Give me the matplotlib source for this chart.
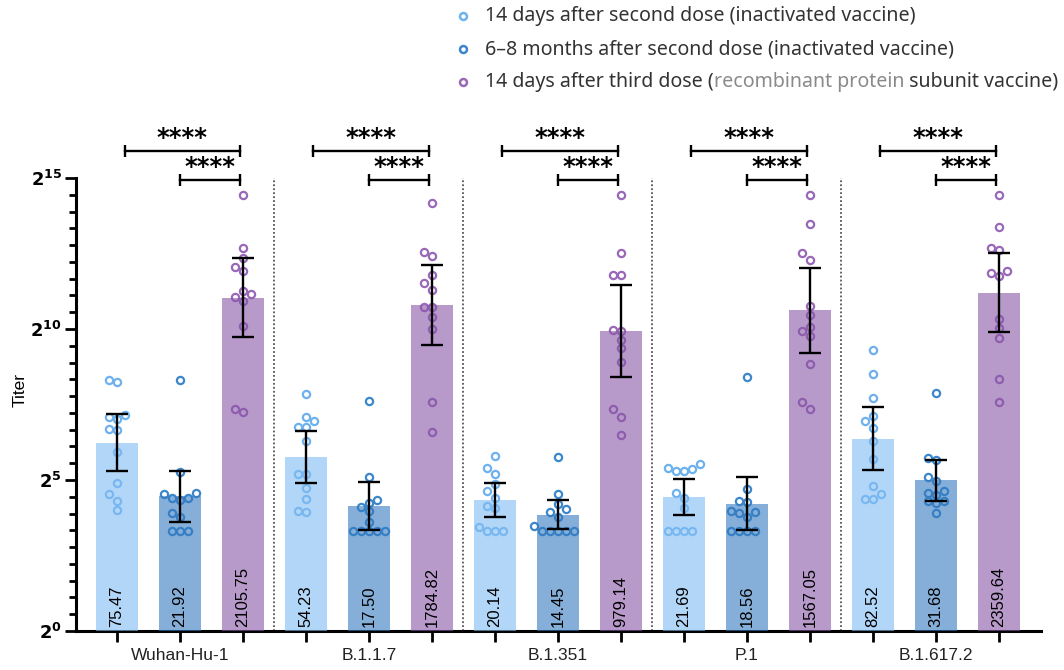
import numpy as np
import matplotlib.pyplot as plt
import matplotlib.transforms as mtransforms
from matplotlib.ticker import FixedLocator, NullFormatter

variants = ["Wuhan-Hu-1", "B.1.1.7", "B.1.351", "P.1", "B.1.617.2"]
series_names = [
    "14 days after second dose (inactivated vaccine)",
    "6\u20138 months after second dose (inactivated vaccine)",
    "14 days after third dose (recombinant protein subunit vaccine)",
]

# geometric mean titers written on the bars
gmt_14d = [75.47, 54.23, 20.14, 21.69, 82.52]
gmt_6m = [21.92, 17.50, 14.45, 18.56, 31.68]
gmt_3rd = [2105.75, 1784.82, 979.14, 1567.05, 2359.64]

# error bars, SD in log2 units
sd_14d = [0.95, 0.86, 0.57, 0.59, 1.05]
sd_6m = [0.86, 0.80, 0.47, 0.88, 0.67]
sd_3rd = [1.31, 1.33, 1.51, 1.41, 1.32]

# single sera, log2 titer
pts_14d = [
    [8.25, 8.31, 7.01, 7.10, 7.15, 6.66, 6.68, 5.94, 4.91, 4.54, 4.31, 4.01],
    [7.85, 7.10, 6.96, 6.77, 6.77, 6.30, 5.20, 5.20, 4.72, 4.36, 3.93, 3.98],
    [5.81, 5.41, 5.20, 4.86, 4.64, 4.39, 4.08, 4.15, 3.32, 3.43, 3.32, 3.32],
    [5.31, 5.41, 5.53, 5.30, 5.35, 4.58, 4.39, 4.06, 3.32, 3.32, 3.32, 3.32],
    [9.30, 8.51, 7.70, 7.12, 6.96, 6.73, 6.30, 5.69, 4.80, 4.54, 4.37, 4.37],
]
pts_6m = [
    [8.31, 5.28, 4.39, 4.39, 4.35, 4.54, 4.58, 3.92, 3.79, 3.32, 3.32, 3.32],
    [7.63, 5.09, 4.34, 4.25, 4.10, 3.98, 3.62, 3.32, 3.32, 3.32, 3.32, 3.32],
    [5.77, 4.54, 4.19, 3.93, 4.04, 3.79, 3.48, 3.32, 3.32, 3.32, 3.32, 3.32],
    [8.40, 4.70, 4.26, 4.31, 3.98, 3.92, 3.93, 3.79, 3.32, 3.32, 3.32, 3.32],
    [7.87, 5.72, 5.66, 5.09, 4.98, 4.58, 4.65, 4.50, 4.31, 4.31, 4.23, 3.92],
]
pts_3rd = [
    [14.44, 12.69, 12.36, 12.06, 11.93, 11.27, 11.05, 10.93, 11.16, 10.10, 7.26, 7.34],
    [14.16, 12.43, 12.56, 11.79, 11.53, 11.29, 10.74, 10.74, 10.41, 10.00, 7.57, 6.60],
    [14.44, 12.51, 11.79, 11.79, 9.97, 9.94, 9.64, 9.36, 8.92, 7.34, 7.10, 6.49],
    [14.44, 13.47, 12.28, 12.51, 10.77, 10.46, 9.94, 10.08, 9.77, 8.83, 7.35, 7.57],
    [14.44, 13.37, 12.67, 12.62, 11.84, 11.92, 11.75, 10.32, 10.02, 9.71, 8.34, 7.57],
]

bar_colors = ["#80BCF2", "#347BC1", "#8757A8"]
dot_colors = ["#6DB2EF", "#3C86CB", "#9A68B8"]

PX_X = 63.0   # pixels per bar slot
PX_Y = 30.2   # pixels per log2 unit


def swarm(vals, step=0.125, dmin=7.6):
    # simple beeswarm: spread points that would overlap
    order = np.argsort(vals)
    placed = []
    offs = np.zeros(len(vals))
    for i in order:
        y = vals[i] * PX_Y
        for k in [0, -1, 1, -2, 2, -3, 3, -4, 4]:
            x = k * step * PX_X
            if all((x - px) ** 2 + (y - py) ** 2 >= dmin ** 2 for px, py in placed):
                break
        placed.append((x, y))
        offs[i] = k * step
    return offs


plt.rcParams["font.family"] = ["Liberation Sans", "DejaVu Sans"]

fig = plt.figure(figsize=(10.64, 6.70), dpi=100)
ax = fig.add_axes([76 / 1064, 1 - 631 / 670, 965 / 1064, (631 - 178) / 670])
ax.set_yscale("log", base=2)

gmts = [gmt_14d, gmt_6m, gmt_3rd]
sds = [sd_14d, sd_6m, sd_3rd]
pts = [pts_14d, pts_6m, pts_3rd]

for g in range(len(variants)):
    for s in range(3):
        x = 3 * g + s
        m = gmts[s][g]
        lm = np.log2(m)
        sd = sds[s][g]
        vals = np.array(pts[s][g])
        xo = x + swarm(vals)
        ax.plot(xo, 2 ** vals, "o", ms=5.2, mfc="none", mec=dot_colors[s], mew=1.6,
                zorder=2, clip_on=False)
        ax.bar(x, m - 1, bottom=1, width=0.66, color=bar_colors[s], alpha=0.6,
               linewidth=0, zorder=3)
        lo = m - 2 ** (lm - sd)
        hi = 2 ** (lm + sd) - m
        ax.errorbar(x, m, yerr=[[lo], [hi]], fmt="none", ecolor="black", elinewidth=1.7,
                    capsize=8, capthick=1.7, zorder=4)
        ax.annotate(f"{m:.2f}", (x, 1), xytext=(0, 3), textcoords="offset points",
                    rotation=90, ha="center", va="bottom", fontsize=12, zorder=5)

    # significance brackets
    base = 3 * g
    for x0, yb in [(base + 0.12, 2 ** 15.88), (base + 1.0, 2 ** 14.93)]:
        x1 = base + 1.95
        ax.plot([x0, x1], [yb, yb], color="black", lw=1.7, clip_on=False, zorder=5)
        ax.plot([x0, x1], [yb, yb], ls="none", marker="|", ms=8, mew=1.7, color="black",
                clip_on=False, zorder=5)
        ax.annotate("****", ((x0 + x1) / 2, yb), xytext=(0, 1), textcoords="offset points",
                    ha="center", va="bottom", fontsize=17.5, fontweight="bold",
                    family="DejaVu Sans", annotation_clip=False)

# dotted separators between variants
for g in range(1, len(variants)):
    ax.plot([3 * g - 0.5] * 2, [1, 2 ** 15], ls=(0, (1, 1.2)), color="#555555", lw=1.3,
            zorder=1, clip_on=False)

ax.set_xlim(-0.65, 14.67)
ax.set_ylim(1, 2 ** 15)
ax.set_xticks(range(15))
ax.set_xticklabels([])
ax.tick_params(axis="x", length=8, width=2)
ax.set_yticks([2 ** k for k in (0, 5, 10, 15)])
ax.set_yticklabels([rf"$\mathbf{{2^{{{k}}}}}$" for k in (0, 5, 10, 15)], fontsize=13)
ax.yaxis.set_minor_locator(FixedLocator([2 ** (5 * j / 9) for j in range(28) if j % 9]))
ax.yaxis.set_minor_formatter(NullFormatter())
ax.tick_params(axis="y", which="major", length=8, width=2, pad=2)
ax.tick_params(axis="y", which="minor", length=5, width=2)
for side in ("top", "right"):
    ax.spines[side].set_visible(False)
for side in ("left", "bottom"):
    ax.spines[side].set_linewidth(2.2)

trans = mtransforms.blended_transform_factory(ax.transData, ax.transAxes)
for g, name in enumerate(variants):
    ax.text(3 * g + 1, -0.055, name, transform=trans, ha="center", va="center", fontsize=12.5,
            color="#222222")

fig.text(20 / 1064, 1 - 390 / 670, "Titer", rotation=90, ha="center", va="center", fontsize=12.5)

# legend drawn by hand so one phrase can be grey
lax = fig.add_axes([0, 0, 1, 1])
lax.set_xlim(0, 1064)
lax.set_ylim(670, 0)
lax.axis("off")
rows = [16, 49, 82]
legend_font = dict(fontsize=14.1, family="Noto Sans", va="center", ha="left")
fig.canvas.draw()
renderer = fig.canvas.get_renderer()
for i, name in enumerate(series_names):
    lax.plot(463, rows[i], "o", ms=5, mfc="none", mec=dot_colors[i], mew=1.8)
    if i < 2:
        lax.text(485, rows[i], name, color="#333333", **legend_font)
    else:
        parts = [("14 days after third dose (", "#333333"),
                 ("recombinant protein", "#8a8a8a"),
                 (" subunit vaccine)", "#333333")]
        xpos = 485
        for txt, col in parts:
            t = lax.text(xpos, rows[i], txt, color=col, **legend_font)
            bb = t.get_window_extent(renderer)
            xpos = lax.transData.inverted().transform((bb.x1, 0))[0]

fig.savefig("out.png", dpi=100)
